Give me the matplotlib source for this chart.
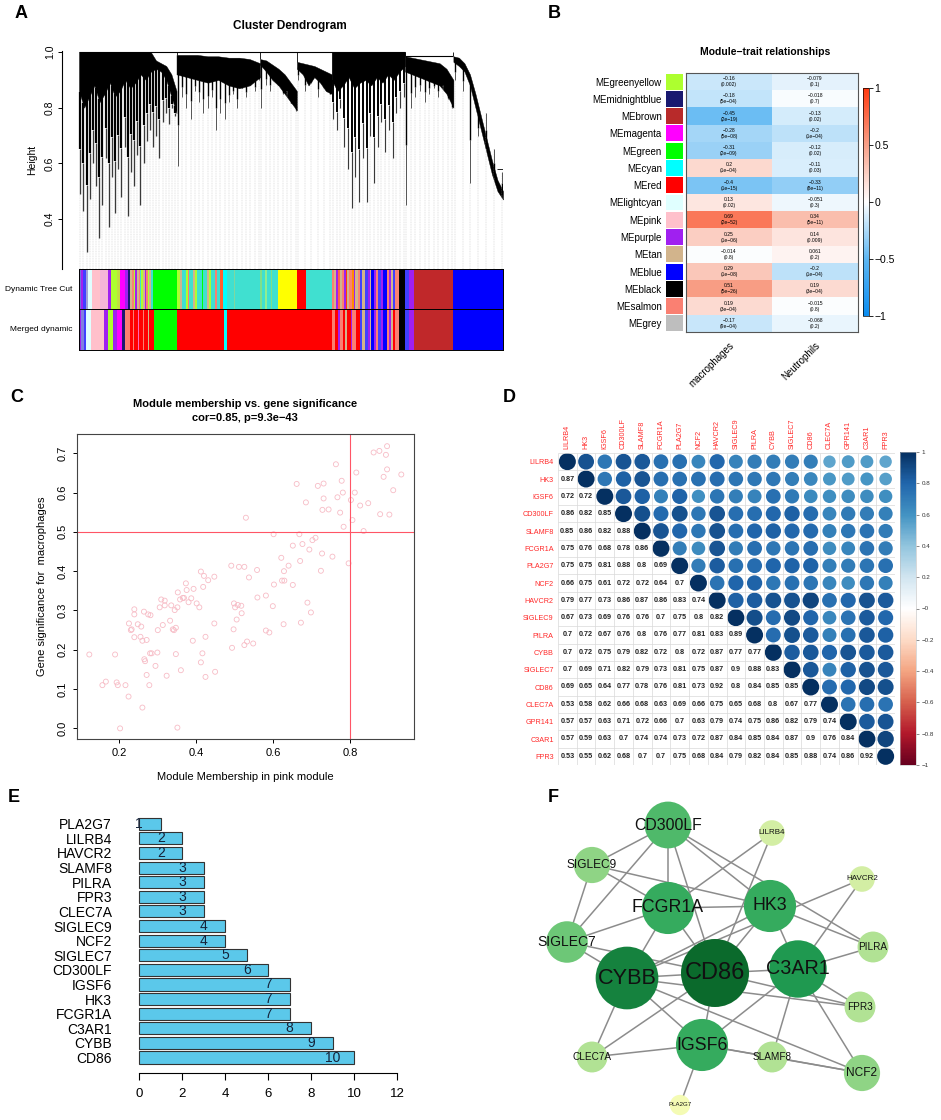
import numpy as np
import matplotlib
matplotlib.use('Agg')
import matplotlib.pyplot as plt
from matplotlib.colors import LinearSegmentedColormap, Normalize
from matplotlib.patches import Circle, Ellipse
from matplotlib.cm import ScalarMappable

plt.rcParams['font.family'] = ['Liberation Sans', 'DejaVu Sans']
plt.rcParams['axes.unicode_minus'] = True

W, H = 941, 1120

# ---------------- A: dendrogram (hand read, rough) ----------------
DENDRO_SPANS = [(0.0, 0.23), (0.23, 0.427), (0.427, 0.514), (0.514, 0.596),
                (0.596, 0.769), (0.769, 0.883), (0.883, 1.0)]
DENDRO_UPPER = [
    [1.0, 1.0, 1.0, 1.0, 1.0, 1.0, 1.0, 1.0, 1.0, 1.0, 1.0, 1.0, 1.0, 1.0, 1.0, 0.97, 0.96, 0.95, 0.92, 0.86],
    [0.99, 0.99, 0.99, 0.985, 0.985, 0.98, 0.98, 0.975, 0.96],
    [0.975, 0.97, 0.955, 0.94, 0.92, 0.89, 0.86],
    [0.965, 0.96, 0.955, 0.95, 0.94, 0.93, 0.92],
    [1.0, 1.0, 1.0, 1.0, 1.0, 1.0, 1.0, 1.0, 1.0, 1.0, 1.0, 1.0, 1.0, 1.0],
    [0.985, 0.98, 0.975, 0.97, 0.965, 0.96, 0.94, 0.90],
    [0.985, 0.98, 0.96, 0.92, 0.85, 0.77, 0.69, 0.61, 0.54, 0.50],
]
DENDRO_LOWER = [
    [0.86, 0.80, 0.84, 0.88, 0.82, 0.85, 0.89, 0.84, 0.86, 0.90, 0.87, 0.89, 0.92, 0.90, 0.93, 0.94, 0.93, 0.90, 0.84, 0.78],
    [0.92, 0.91, 0.90, 0.89, 0.90, 0.88, 0.87, 0.88, 0.91],
    [0.955, 0.93, 0.90, 0.88, 0.85, 0.82, 0.79],
    [0.94, 0.92, 0.88, 0.91, 0.89, 0.86, 0.85],
    [0.90, 0.86, 0.88, 0.91, 0.87, 0.89, 0.90, 0.88, 0.91, 0.89, 0.92, 0.90, 0.93, 0.95],
    [0.93, 0.92, 0.91, 0.90, 0.89, 0.88, 0.85, 0.80],
    [0.965, 0.95, 0.93, 0.88, 0.80, 0.72, 0.64, 0.56, 0.50, 0.47],
]
DENDRO_DROPS = [
    [0.49, 0.43, 0.28, 0.47, 0.60, 0.52, 0.33, 0.45, 0.62, 0.37, 0.55, 0.42, 0.58, 0.48, 0.66, 0.41,
     0.57, 0.52, 0.63, 0.45, 0.60, 0.68, 0.72, 0.66, 0.70, 0.62, 0.75, 0.78, 0.74, 0.80, 0.77],
    [0.59, 0.84, 0.80, 0.76, 0.86, 0.82, 0.78, 0.80, 0.84, 0.72, 0.78, 0.76, 0.82, 0.85, 0.80,
     0.87, 0.84, 0.88, 0.86, 0.90],
    [0.80, 0.88, 0.86, 0.90, 0.88, 0.85, 0.86, 0.82, 0.79],
    [0.90, 0.86, 0.89, 0.84, 0.87, 0.85],
    [0.76, 0.72, 0.80, 0.66, 0.58, 0.44, 0.55, 0.46, 0.62, 0.46, 0.70, 0.53, 0.66, 0.75, 0.64,
     0.72, 0.62, 0.78, 0.80, 0.84],
    [0.45, 0.80, 0.84, 0.86, 0.82, 0.85, 0.87, 0.84, 0.88, 0.83, 0.80],
    [0.90, 0.86, 0.53, 0.70, 0.78, 0.65, 0.57],
]
DENDRO_LW = [1.6, 1.0, 1.0, 1.0, 1.4, 1.0, 1.0]

# colour rows under the tree (colour, width in picture px)
DTC_COLORS = ['#7070e0', '#a020f0', '#4040ff', '#a0a0d8', '#e0ffff', '#ffc0cb', '#f5b5d8', '#a020f0',
              '#adff2f', '#c0e040', '#ff00ff', '#a020f0', '#191970',
              '#d2b48c', '#fa8072', '#adff2f', '#a020f0', '#d2b48c', '#fa8072', '#40e0d0', '#adff2f',
              '#d2b48c', '#a020f0', '#fa8072', '#adff2f', '#d2b48c', '#40e0d0',
              '#00ff00',
              '#adff2f', '#d2b48c', '#40e0d0', '#adff2f', '#fa8072', '#40e0d0', '#d2b48c', '#adff2f',
              '#40e0d0', '#00ff00', '#40e0d0', '#d2b48c', '#adff2f', '#40e0d0', '#fa8072', '#40e0d0',
              '#ff6030',
              '#00ffff', '#40e0d0', '#7fd8a0', '#40e0d0',
              '#7fe08a', '#40e0d0', '#90ee90', '#40e0d0', '#7fe08a', '#40e0d0',
              '#ffff00', '#ff0000', '#40e0d0',
              '#fa8072', '#d2b48c', '#a020f0', '#ff6347', '#d2b48c', '#fa8072', '#a020f0', '#ff4500',
              '#d2b48c', '#fa8072', '#ff8c00', '#a020f0', '#d2b48c', '#fa8072', '#4040ff', '#d2b48c',
              '#4040ff', '#a020f0', '#d2b48c', '#0000ff', '#a020f0', '#fa8072', '#4040ff', '#a020f0',
              '#0000ff',
              '#fa8072', '#a020f0', '#d2b48c', '#4040ff', '#fa8072',
              '#000000', '#4040ff', '#a020f0', '#c0282a', '#0000ff']
DTC_WIDTHS = [7, 5, 8, 8, 12, 24, 22, 10, 18, 10, 15, 8, 7,
              6, 5, 4, 4, 6, 4, 4, 5, 5, 3, 6, 4, 6, 6,
              73,
              8, 6, 10, 6, 4, 12, 5, 8, 14, 4, 10, 6, 6, 12, 6, 10, 8,
              12, 22, 4, 74,
              5, 10, 5, 12, 5, 18,
              55, 28, 79,
              6, 6, 4, 6, 8, 6, 5, 4, 6, 8, 5, 5, 8, 6, 5, 10,
              8, 6, 4, 8, 8, 5, 8, 6, 12,
              8, 6, 6, 5, 10,
              20, 10, 15, 118, 150]
MERGED_COLORS = ['#a020f0', '#8080e0', '#4040ff', '#e0ffff', '#ffc0cb', '#a020f0', '#adff2f', '#a020f0',
                 '#ff00ff', '#191970', '#fa8072',
                 '#ff0000', '#fa8072', '#ff0000', '#ff69b4', '#ff0000', '#fa8072', '#ff0000', '#d2b48c',
                 '#ff0000',
                 '#00ff00', '#ff0000', '#00ffff', '#ff0000',
                 '#fa8072', '#ff0000', '#a020f0', '#fa8072', '#ff0000', '#d2b48c', '#ff0000', '#a020f0',
                 '#fa8072', '#ff0000', '#4040ff', '#d2b48c',
                 '#4040ff', '#a020f0', '#d2b48c', '#0000ff', '#a020f0', '#fa8072', '#4040ff', '#a020f0',
                 '#0000ff',
                 '#fa8072', '#a020f0', '#d2b48c', '#ff0000', '#fa8072',
                 '#000000', '#4040ff', '#a020f0', '#c0282a', '#0000ff']
MERGED_WIDTHS = [6, 8, 6, 16, 40, 12, 15, 10, 15, 10, 16,
                 8, 4, 10, 4, 12, 4, 10, 4, 14,
                 71, 139, 10, 315,
                 8, 10, 5, 8, 8, 6, 10, 5, 10, 12, 6, 10,
                 8, 6, 4, 8, 8, 5, 8, 6, 12,
                 8, 6, 6, 5, 10,
                 20, 10, 15, 118, 150]

# ---------------- B: module-trait ----------------
MODULES = ['MEgreenyellow', 'MEmidnightblue', 'MEbrown', 'MEmagenta', 'MEgreen', 'MEcyan', 'MEred',
           'MElightcyan', 'MEpink', 'MEpurple', 'MEtan', 'MEblue', 'MEblack', 'MEsalmon', 'MEgrey']
MODULE_COLORS = ['#adff2f', '#191970', '#b82a2a', '#ff00ff', '#00ff00', '#00ffff', '#ff0000',
                 '#e0ffff', '#ffc0cb', '#a020f0', '#d2b48c', '#0000ff', '#000000', '#fa8072', '#bebebe']
TRAITS = ['macrophages', 'Neutrophils']
COR_MAC = [-0.16, -0.18, -0.45, -0.28, -0.31, 0.2, -0.4, 0.13, 0.69, 0.25, -0.014, 0.29, 0.51, 0.19, -0.17]
P_MAC = ['0.002', '5e-04', '2e-19', '5e-08', '2e-09', '1e-04', '1e-15', '0.02', '2e-52', '1e-06',
         '0.8', '1e-08', '5e-26', '3e-04', '9e-04']
COR_NEU = [-0.079, -0.018, -0.13, -0.2, -0.12, -0.11, -0.33, -0.051, 0.34, 0.14, 0.061, -0.2, 0.19,
           -0.015, -0.068]
P_NEU = ['0.1', '0.7', '0.02', '1e-04', '0.02', '0.03', '8e-11', '0.3', '5e-11', '0.009', '0.2',
         '1e-04', '3e-04', '0.8', '0.2']

# ---------------- C: MM vs GS ----------------
MM = [0.122, 0.156, 0.165, 0.189, 0.193, 0.196, 0.202, 0.216, 0.224, 0.225, 0.232, 0.23, 0.239, 0.239,
      0.239, 0.248, 0.255, 0.257, 0.26, 0.26, 0.264, 0.265, 0.267, 0.271, 0.271, 0.275, 0.281, 0.28,
      0.278, 0.284, 0.294, 0.299, 0.3, 0.305, 0.309, 0.313, 0.318, 0.318, 0.323, 0.332, 0.335, 0.339,
      0.342, 0.344, 0.347, 0.347, 0.351, 0.351, 0.352, 0.358, 0.36, 0.365, 0.368, 0.373, 0.375, 0.38,
      0.387, 0.391, 0.393, 0.401, 0.408, 0.412, 0.412, 0.416, 0.418, 0.42, 0.424, 0.424, 0.431, 0.447,
      0.447, 0.449, 0.491, 0.493, 0.497, 0.498, 0.501, 0.505, 0.508, 0.511, 0.517, 0.518, 0.525, 0.525,
      0.529, 0.532, 0.537, 0.548, 0.558, 0.559, 0.581, 0.581, 0.59, 0.599, 0.601, 0.602, 0.621, 0.623,
      0.627, 0.628, 0.629, 0.64, 0.651, 0.651, 0.661, 0.668, 0.67, 0.672, 0.676, 0.685, 0.689, 0.694,
      0.698, 0.702, 0.71, 0.716, 0.724, 0.727, 0.728, 0.731, 0.731, 0.744, 0.754, 0.763, 0.767, 0.774,
      0.778, 0.781, 0.783, 0.796, 0.802, 0.806, 0.812, 0.816, 0.826, 0.835, 0.847, 0.861, 0.876, 0.878,
      0.887, 0.893, 0.896, 0.896, 0.902, 0.912, 0.933]
GS = [0.188, 0.110, 0.119, 0.188, 0.117, 0.110, 0.0, 0.110, 0.081, 0.267, 0.252, 0.25, 0.303, 0.29,
      0.232, 0.265, 0.233, 0.259, 0.223, 0.053, 0.297, 0.176, 0.171, 0.225, 0.136, 0.29, 0.288, 0.191,
      0.110, 0.191, 0.159, 0.193, 0.25, 0.308, 0.328, 0.263, 0.325, 0.313, 0.134, 0.274, 0.313, 0.252,
      0.25, 0.301, 0.256, 0.189, 0.308, 0.002, 0.346, 0.328, 0.148, 0.332, 0.332, 0.369, 0.352, 0.321,
      0.331, 0.223, 0.355, 0.318, 0.308, 0.399, 0.168, 0.191, 0.36, 0.388, 0.233, 0.131, 0.377, 0.386,
      0.267, 0.144, 0.414, 0.205, 0.252, 0.318, 0.308, 0.277, 0.314, 0.411, 0.312, 0.293, 0.411, 0.212,
      0.536, 0.221, 0.384, 0.216, 0.403, 0.333, 0.338, 0.249, 0.244, 0.311, 0.494, 0.366, 0.434, 0.376,
      0.265, 0.4, 0.376, 0.414, 0.365, 0.465, 0.622, 0.494, 0.426, 0.269, 0.469, 0.575, 0.32, 0.455,
      0.295, 0.479, 0.485, 0.617, 0.401, 0.445, 0.556, 0.623, 0.585, 0.557, 0.437, 0.672, 0.588, 0.549,
      0.63, 0.6, 0.513, 0.42, 0.581, 0.53, 0.6, 0.651, 0.567, 0.502, 0.573, 0.702, 0.706, 0.545,
      0.64, 0.696, 0.718, 0.659, 0.544, 0.606, 0.646]

# ---------------- D: correlation matrix (lower triangle) ----------------
CORR_GENES = ['LILRB4', 'HK3', 'IGSF6', 'CD300LF', 'SLAMF8', 'FCGR1A', 'PLA2G7', 'NCF2', 'HAVCR2',
              'SIGLEC9', 'PILRA', 'CYBB', 'SIGLEC7', 'CD86', 'CLEC7A', 'GPR141', 'C3AR1', 'FPR3']
CORR_LOWER = [
    [],
    [0.87],
    [0.72, 0.72],
    [0.86, 0.82, 0.85],
    [0.85, 0.86, 0.82, 0.88],
    [0.75, 0.76, 0.68, 0.78, 0.86],
    [0.75, 0.75, 0.81, 0.88, 0.8, 0.69],
    [0.66, 0.75, 0.61, 0.72, 0.72, 0.64, 0.7],
    [0.79, 0.77, 0.73, 0.86, 0.87, 0.86, 0.83, 0.74],
    [0.67, 0.73, 0.69, 0.76, 0.76, 0.7, 0.75, 0.8, 0.82],
    [0.7, 0.72, 0.67, 0.76, 0.8, 0.76, 0.77, 0.81, 0.83, 0.89],
    [0.7, 0.72, 0.75, 0.79, 0.82, 0.72, 0.8, 0.72, 0.87, 0.77, 0.77],
    [0.7, 0.69, 0.71, 0.82, 0.79, 0.73, 0.81, 0.75, 0.87, 0.9, 0.88, 0.83],
    [0.69, 0.65, 0.64, 0.77, 0.78, 0.76, 0.81, 0.73, 0.92, 0.8, 0.84, 0.85, 0.85],
    [0.53, 0.58, 0.62, 0.66, 0.68, 0.63, 0.69, 0.66, 0.75, 0.65, 0.68, 0.8, 0.67, 0.77],
    [0.57, 0.57, 0.63, 0.71, 0.72, 0.66, 0.7, 0.63, 0.79, 0.74, 0.75, 0.86, 0.82, 0.79, 0.74],
    [0.57, 0.59, 0.63, 0.7, 0.74, 0.74, 0.73, 0.72, 0.87, 0.84, 0.85, 0.84, 0.87, 0.9, 0.76, 0.84],
    [0.53, 0.55, 0.62, 0.68, 0.7, 0.7, 0.75, 0.68, 0.84, 0.79, 0.82, 0.84, 0.85, 0.88, 0.74, 0.86, 0.92],
]

# ---------------- E: degree bar chart ----------------
HUB_GENES = ['PLA2G7', 'LILRB4', 'HAVCR2', 'SLAMF8', 'PILRA', 'FPR3', 'CLEC7A', 'SIGLEC9', 'NCF2',
             'SIGLEC7', 'CD300LF', 'IGSF6', 'HK3', 'FCGR1A', 'C3AR1', 'CYBB', 'CD86']
HUB_DEGREE = [1, 2, 2, 3, 3, 3, 3, 4, 4, 5, 6, 7, 7, 7, 8, 9, 10]

# ---------------- F: PPI network (layout as drawn) ----------------
NET_LAYOUT = {
    'CD300LF': (668, 825), 'LILRB4': (772, 833), 'SIGLEC9': (592, 865), 'HAVCR2': (862, 879),
    'FCGR1A': (668, 908), 'HK3': (770, 906), 'SIGLEC7': (567, 942), 'PILRA': (873, 947),
    'CYBB': (627, 978), 'CD86': (715, 973), 'C3AR1': (798, 969), 'FPR3': (860, 1007),
    'IGSF6': (702, 1045), 'CLEC7A': (592, 1057), 'SLAMF8': (772, 1057), 'NCF2': (862, 1073),
    'PLA2G7': (680, 1105),
}
NET_EDGES = [
    ('PLA2G7', 'IGSF6'), ('LILRB4', 'FCGR1A'), ('LILRB4', 'CD86'), ('HAVCR2', 'CYBB'),
    ('HAVCR2', 'C3AR1'), ('PILRA', 'CD300LF'), ('PILRA', 'HK3'), ('PILRA', 'C3AR1'),
    ('FPR3', 'CYBB'), ('FPR3', 'C3AR1'), ('FPR3', 'CD86'), ('SLAMF8', 'C3AR1'), ('SLAMF8', 'NCF2'),
    ('SLAMF8', 'IGSF6'), ('CLEC7A', 'CYBB'), ('CLEC7A', 'IGSF6'), ('CLEC7A', 'CD86'),
    ('NCF2', 'CYBB'), ('NCF2', 'C3AR1'), ('NCF2', 'IGSF6'), ('SIGLEC9', 'CD300LF'),
    ('SIGLEC9', 'SIGLEC7'), ('SIGLEC9', 'FCGR1A'), ('SIGLEC9', 'HK3'), ('SIGLEC7', 'CD300LF'),
    ('SIGLEC7', 'FCGR1A'), ('SIGLEC7', 'CYBB'), ('SIGLEC7', 'CD86'), ('CD300LF', 'FCGR1A'),
    ('CD300LF', 'CD86'), ('CD300LF', 'HK3'), ('IGSF6', 'CYBB'), ('IGSF6', 'CD86'), ('IGSF6', 'C3AR1'),
    ('FCGR1A', 'HK3'), ('FCGR1A', 'CYBB'), ('FCGR1A', 'CD86'), ('HK3', 'CD86'), ('HK3', 'CYBB'),
    ('HK3', 'C3AR1'), ('C3AR1', 'CD86'), ('CYBB', 'CD86'),
]


def box(x0, y0, x1, y1):
    # pixel box (top-left origin) -> figure fraction rect
    return [x0 / W, 1 - y1 / H, (x1 - x0) / W, (y1 - y0) / H]


fig = plt.figure(figsize=(W / 100, H / 100), dpi=100)

for lab, (px, py) in zip('ABCDEF', [(15, 14), (548, 14), (10, 397), (503, 397), (8, 797), (548, 797)]):
    fig.text(px / W, 1 - py / H, lab, fontsize=13, fontweight='bold', ha='left', va='center')

# ====== A ======
axA = fig.add_axes(box(62, 51, 503, 269))
axA.set_xlim(-17 / 424, 1.0)
axA.set_ylim(0.22, 1.004)
for (s, e), up, lo, drops, lw in zip(DENDRO_SPANS, DENDRO_UPPER, DENDRO_LOWER, DENDRO_DROPS, DENDRO_LW):
    xe = np.linspace(s, e, len(up))
    axA.fill_between(xe, lo, up, color='black', lw=0.3)
    xd = np.linspace(s + 0.003, e - 0.003, len(drops))
    env = np.interp(xd, xe, lo)
    drops = np.array(drops)
    mid = drops + 0.45 * (env - drops)
    axA.vlines(xd, 0.22, drops, color='#c4c4c4', lw=0.35, linestyles=(0, (2, 1.5)))
    axA.vlines(xd, drops, mid, color='#3a3a3a', lw=lw * 0.6)
    axA.vlines(xd, mid, env + 0.01, color='black', lw=lw)
    axA.vlines(s, up[0], 1.0, color='black', lw=0.6)
axA.hlines(1.0, 0, 0.769, color='black', lw=0.8)
axA.hlines(0.985, 0.769, 0.883, color='black', lw=0.8)
axA.hlines(0.58, 0.985, 1.0, color='black', lw=0.6)
for sp in ['top', 'right', 'bottom']:
    axA.spines[sp].set_visible(False)
axA.spines['left'].set_linewidth(0.8)
axA.set_xticks([])
axA.set_yticks([0.4, 0.6, 0.8, 1.0])
axA.set_yticklabels(['0.4', '0.6', '0.8', '1.0'], rotation=90, va='center', fontsize=7.5)
axA.tick_params(axis='y', length=3, width=0.7, pad=2)
axA.set_ylabel('Height', fontsize=7.5, labelpad=6)
fig.text(290 / W, 1 - 26 / H, 'Cluster Dendrogram', fontsize=8.5, fontweight='bold', ha='center', va='center')

for (top, bot), colors, widths, label in [((269, 309), DTC_COLORS, DTC_WIDTHS, 'Dynamic Tree Cut'),
                                          ((309, 350), MERGED_COLORS, MERGED_WIDTHS, 'Merged dynamic')]:
    axb = fig.add_axes(box(79, top, 503, bot))
    wid = np.array(widths, float) / sum(widths)
    starts = np.concatenate([[0], np.cumsum(wid)[:-1]])
    axb.broken_barh(list(zip(starts, wid)), (0, 1), facecolors=colors, edgecolor='none')
    axb.set_xlim(0, 1)
    axb.set_ylim(0, 1)
    axb.set_xticks([])
    axb.set_yticks([])
    for sp in axb.spines.values():
        sp.set_linewidth(0.7)
    fig.text(72 / W, 1 - (top + bot) / 2 / H, label, fontsize=6, ha='right', va='center')

# ====== B ======
cmapB = LinearSegmentedColormap.from_list(
    'bwr_wgcna', [(0.0, '#0a8cf0'), (0.25, '#5cb6f2'), (0.5, '#ffffff'), (0.75, '#f8a088'), (1.0, '#ff3a10')])
axB = fig.add_axes(box(686, 73, 858, 332))
vals = np.column_stack([COR_MAC, COR_NEU])
axB.imshow(vals, cmap=cmapB, vmin=-1, vmax=1, aspect='auto')
for i in range(len(MODULES)):
    for j, (cors, ps) in enumerate([(COR_MAC, P_MAC), (COR_NEU, P_NEU)]):
        txt = f"{cors[i]:g}".replace('-', '\u2212') + '\n(' + ps[i].replace('-', '\u2212') + ')'
        axB.text(j, i, txt, ha='center', va='center', fontsize=3.6, linespacing=1.25)
axB.set_xticks([0, 1])
axB.set_xticklabels(TRAITS, rotation=45, ha='right', rotation_mode='anchor', fontsize=7)
axB.set_yticks([])
axB.tick_params(axis='x', length=0, pad=6)
for sp in axB.spines.values():
    sp.set_color('#555555')
    sp.set_linewidth(0.8)

axBs = fig.add_axes(box(666, 73, 683, 332))
axBs.barh(np.arange(len(MODULES)), 1, height=0.92, color=MODULE_COLORS)
axBs.set_ylim(len(MODULES) - 0.5, -0.5)
axBs.set_xlim(0, 1)
axBs.set_xticks([])
axBs.set_yticks(np.arange(len(MODULES)))
axBs.set_yticklabels(MODULES, fontsize=7)
axBs.tick_params(axis='y', length=0, pad=3)
for sp in axBs.spines.values():
    sp.set_visible(False)

caxB = fig.add_axes(box(863, 88, 869, 316))
cbB = fig.colorbar(ScalarMappable(Normalize(-1, 1), cmapB), cax=caxB)
cbB.set_ticks([-1, -0.5, 0, 0.5, 1])
cbB.set_ticklabels(['\u22121', '\u22120.5', '0', '0.5', '1'])
cbB.ax.tick_params(labelsize=7.5, length=3, width=0.6, pad=1)
cbB.outline.set_linewidth(0.5)
fig.text(765 / W, 1 - 52 / H, 'Module\u2212trait relationships', fontsize=7.5, fontweight='bold',
         ha='center', va='center')

# ====== C ======
axCs = fig.add_axes(box(77, 434, 414, 739))
axCs.scatter(MM, GS, s=13, facecolors='none', edgecolors='#f7bcc6', linewidths=0.6)
axCs.axvline(0.8, color='#ff5566', lw=0.8)
axCs.axhline(0.5, color='#ff5566', lw=0.8)
axCs.set_xlim(0.09, 0.966)
axCs.set_ylim(-0.027, 0.749)
axCs.set_xticks([0.2, 0.4, 0.6, 0.8])
axCs.set_xticklabels(['0.2', '0.4', '0.6', '0.8'], fontsize=8)
axCs.set_yticks(np.arange(0, 0.71, 0.1))
axCs.set_yticklabels([f"{v:.1f}" for v in np.arange(0, 0.71, 0.1)], rotation=90, va='center', fontsize=8)
axCs.tick_params(length=3, width=0.7)
for sp in axCs.spines.values():
    sp.set_linewidth(0.8)
    sp.set_color('#444444')
axCs.set_xlabel('Module Membership in pink module', fontsize=8, labelpad=10)
axCs.set_ylabel('Gene significance for  macrophages', fontsize=8, labelpad=8)
fig.text(245 / W, 1 - 404 / H, 'Module membership vs. gene significance', fontsize=8, fontweight='bold',
         ha='center', va='center')
fig.text(245 / W, 1 - 418 / H, 'cor=0.85, p=9.3e\u221243', fontsize=8, fontweight='bold',
         ha='center', va='center')

# ====== D ======
n = len(CORR_GENES)
corr = np.eye(n)
for i, row in enumerate(CORR_LOWER):
    for j, v in enumerate(row):
        corr[i, j] = v
        corr[j, i] = v
cmapD = LinearSegmentedColormap.from_list('corrplot', ["#67001F", "#B2182B", "#D6604D", "#F4A582", "#FDDBC7",
                                                      "#FFFFFF", "#D1E5F0", "#92C5DE", "#4393C3", "#2166AC",
                                                      "#053061"])
axD = fig.add_axes(box(558, 453, 895, 765))
axD.set_xlim(-0.5, n - 0.5)
axD.set_ylim(n - 0.5, -0.5)
axD.vlines(np.arange(-0.5, n), -0.5, n - 0.5, color='#d9d9d9', lw=0.5)
axD.hlines(np.arange(-0.5, n), -0.5, n - 0.5, color='#d9d9d9', lw=0.5)
cw, ch = 337 / n, 312 / n  # cell size in px
for i in range(n):
    for j in range(n):
        r = corr[i, j]
        if j < i:
            axD.text(j, i, f"{r:g}", ha='center', va='center', fontsize=5.2, fontweight='bold', color='#222222')
        else:
            d = 17.0 * np.sqrt(abs(r))
            axD.add_patch(Ellipse((j, i), d / cw, d / ch, facecolor=cmapD((r + 1) / 2), edgecolor='none'))
axD.set_xticks(range(n))
axD.set_xticklabels(CORR_GENES, rotation=90, fontsize=5.2, color='#ff2a2a')
axD.xaxis.tick_top()
axD.set_yticks(range(n))
axD.set_yticklabels(CORR_GENES, fontsize=5.2, color='#ff2a2a')
axD.tick_params(length=0, pad=3)
for sp in axD.spines.values():
    sp.set_visible(False)
caxD = fig.add_axes(box(900, 452, 916, 765))
cbD = fig.colorbar(ScalarMappable(Normalize(-1, 1), cmapD), cax=caxD)
ticksD = np.round(np.arange(-1, 1.01, 0.2), 1)
cbD.set_ticks(ticksD)
cbD.set_ticklabels([f"{t:g}".replace('-', '\u2212') for t in ticksD])
cbD.ax.tick_params(labelsize=4.5, length=2, width=0.4, pad=2, colors='#333333')
cbD.outline.set_linewidth(0.4)
cbD.outline.set_edgecolor('#bbbbbb')

# ====== E ======
axE = fig.add_axes(box(130, 815, 400, 1073))
ypos = np.arange(len(HUB_GENES))[::-1]
axE.barh(ypos, HUB_DEGREE, height=0.83, color='#5bc8ea', edgecolor='#333333', linewidth=0.8)
for y, v in zip(ypos, HUB_DEGREE):
    axE.text(v - 1, y, str(v), ha='center', va='center', fontsize=10, color='#15233a')
axE.set_xlim(-9.3 / 21.47, 12 + 3 / 21.47)
axE.set_ylim(-1.06, 16.6)
axE.set_yticks(ypos)
axE.set_yticklabels(HUB_GENES, fontsize=10)
axE.tick_params(axis='y', length=0, pad=13)
axE.set_xticks(range(0, 13, 2))
axE.set_xticklabels([str(v) for v in range(0, 13, 2)], fontsize=9.5)
axE.tick_params(axis='x', length=5, width=0.8, pad=6)
for sp in ['top', 'right', 'left']:
    axE.spines[sp].set_visible(False)
axE.spines['bottom'].set_bounds(0, 12)
axE.spines['bottom'].set_linewidth(0.8)

# ====== F ======
deg = dict(zip(HUB_GENES, HUB_DEGREE))
cmapF = LinearSegmentedColormap.from_list('net', ['#f4fbb4', '#a8de90', '#5cc070', '#22a055', '#0b6a2c'])
axF = fig.add_axes(box(520, 790, 941, 1120))
axF.set_xlim(520, 941)
axF.set_ylim(1120, 790)
axF.set_aspect('equal')
axF.axis('off')
for a, b in NET_EDGES:
    (x1, y1), (x2, y2) = NET_LAYOUT[a], NET_LAYOUT[b]
    axF.plot([x1, x2], [y1, y2], color='#8c8c8c', lw=1.1, zorder=1)
for name, (x, y) in NET_LAYOUT.items():
    d = deg[name]
    axF.add_patch(Circle((x, y), 7.5 + 2.65 * d, facecolor=cmapF((d - 1) / 9), edgecolor='none', zorder=2))
    axF.text(x, y, name, ha='center', va='center', fontsize=3 + 1.4 * d, color='#111111', zorder=3)

fig.savefig('out.png', dpi=100)
